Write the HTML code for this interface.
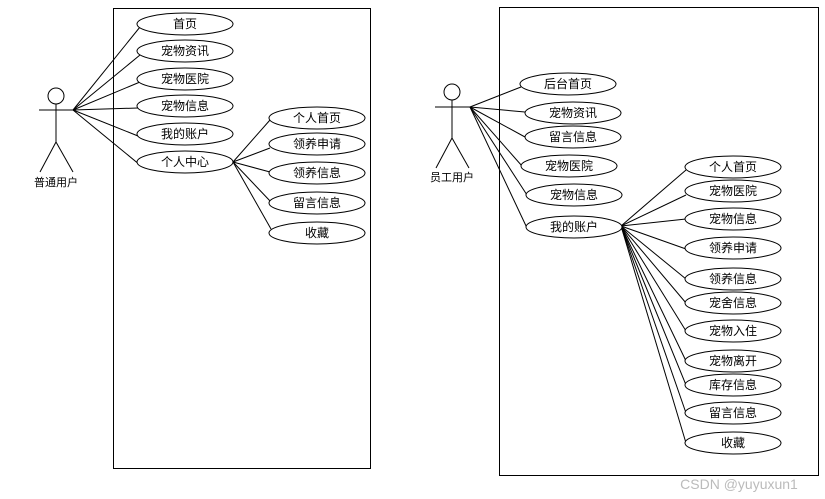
<!DOCTYPE html>
<html><head><meta charset="utf-8"><style>
html,body{margin:0;padding:0;background:#fff;}
svg{display:block;}
text{font-family:"Liberation Sans","Noto Sans CJK SC",sans-serif;font-size:12px;fill:#000;}
</style></head><body>
<svg width="825" height="499" viewBox="0 0 825 499" xmlns="http://www.w3.org/2000/svg">
<g fill="none" stroke="#000" stroke-width="1">
<rect x="113.5" y="8.5" width="257" height="460"/>
<rect x="499.5" y="7.5" width="319" height="468"/>
<circle cx="56" cy="96" r="8"/>
<line x1="39" y1="110" x2="75" y2="110"/>
<line x1="56" y1="104" x2="56" y2="142"/>
<line x1="56" y1="142" x2="40" y2="172"/>
<line x1="56" y1="142" x2="73" y2="172"/>
<circle cx="452" cy="92" r="8"/>
<line x1="435" y1="107" x2="470" y2="107"/>
<line x1="452" y1="100" x2="452" y2="138"/>
<line x1="452" y1="138" x2="436" y2="168"/>
<line x1="452" y1="138" x2="469" y2="168"/>
<line x1="73" y1="110" x2="140" y2="27"/>
<line x1="73" y1="110" x2="140" y2="55"/>
<line x1="73" y1="110" x2="140" y2="82"/>
<line x1="73" y1="110" x2="138" y2="108"/>
<line x1="73" y1="110" x2="138" y2="136"/>
<line x1="73" y1="110" x2="140" y2="165"/>
<line x1="233" y1="162" x2="270" y2="120"/>
<line x1="233" y1="162" x2="270" y2="148"/>
<line x1="233" y1="162" x2="270" y2="172"/>
<line x1="233" y1="162" x2="271" y2="202"/>
<line x1="233" y1="162" x2="271" y2="229"/>
<line x1="470" y1="107" x2="521" y2="87"/>
<line x1="470" y1="107" x2="525" y2="112"/>
<line x1="470" y1="107" x2="525" y2="137"/>
<line x1="470" y1="107" x2="522" y2="166"/>
<line x1="470" y1="107" x2="527" y2="195"/>
<line x1="470" y1="107" x2="527" y2="228"/>
<line x1="621" y1="226" x2="686" y2="170"/>
<line x1="621" y1="226" x2="686" y2="195"/>
<line x1="621" y1="226" x2="686" y2="219"/>
<line x1="621" y1="226" x2="686" y2="249"/>
<line x1="621" y1="226" x2="686" y2="279"/>
<line x1="621" y1="226" x2="686" y2="303"/>
<line x1="621" y1="226" x2="686" y2="331"/>
<line x1="621" y1="226" x2="686" y2="361"/>
<line x1="621" y1="226" x2="686" y2="385"/>
<line x1="621" y1="226" x2="686" y2="413"/>
<line x1="621" y1="226" x2="686" y2="443"/>
</g>
<g fill="#fff" stroke="#000" stroke-width="1">
<ellipse cx="185" cy="24" rx="48" ry="11"/>
<ellipse cx="185" cy="51" rx="48" ry="11"/>
<ellipse cx="185" cy="79" rx="48" ry="11"/>
<ellipse cx="185" cy="106" rx="48" ry="11"/>
<ellipse cx="185" cy="134" rx="48" ry="11"/>
<ellipse cx="185" cy="162" rx="48" ry="11"/>
<ellipse cx="317" cy="118" rx="48" ry="11"/>
<ellipse cx="317" cy="144" rx="48" ry="11"/>
<ellipse cx="317" cy="173" rx="48" ry="11"/>
<ellipse cx="317" cy="203" rx="48" ry="11"/>
<ellipse cx="317" cy="233" rx="48" ry="11"/>
<ellipse cx="568" cy="84" rx="48" ry="11"/>
<ellipse cx="573" cy="113" rx="48" ry="11"/>
<ellipse cx="573" cy="137" rx="48" ry="11"/>
<ellipse cx="569" cy="166" rx="48" ry="11"/>
<ellipse cx="574" cy="195" rx="48" ry="11"/>
<ellipse cx="574" cy="227" rx="48" ry="11"/>
<ellipse cx="733" cy="167" rx="48" ry="11"/>
<ellipse cx="733" cy="191" rx="48" ry="11"/>
<ellipse cx="733" cy="219" rx="48" ry="11"/>
<ellipse cx="733" cy="248" rx="48" ry="11"/>
<ellipse cx="733" cy="279" rx="48" ry="11"/>
<ellipse cx="733" cy="303" rx="48" ry="11"/>
<ellipse cx="733" cy="331" rx="48" ry="11"/>
<ellipse cx="733" cy="361" rx="48" ry="11"/>
<ellipse cx="733" cy="385" rx="48" ry="11"/>
<ellipse cx="733" cy="413" rx="48" ry="11"/>
<ellipse cx="733" cy="443" rx="48" ry="11"/>
</g>
<g text-anchor="middle" dominant-baseline="central">
<text x="185" y="24">首页</text>
<text x="185" y="51">宠物资讯</text>
<text x="185" y="79">宠物医院</text>
<text x="185" y="106">宠物信息</text>
<text x="185" y="134">我的账户</text>
<text x="185" y="162">个人中心</text>
<text x="317" y="118">个人首页</text>
<text x="317" y="144">领养申请</text>
<text x="317" y="173">领养信息</text>
<text x="317" y="203">留言信息</text>
<text x="317" y="233">收藏</text>
<text x="56" y="183" style="font-size:11px">普通用户</text>
<text x="568" y="84">后台首页</text>
<text x="573" y="113">宠物资讯</text>
<text x="573" y="137">留言信息</text>
<text x="569" y="166">宠物医院</text>
<text x="574" y="195">宠物信息</text>
<text x="574" y="227">我的账户</text>
<text x="452" y="178" style="font-size:11px">员工用户</text>
<text x="733" y="167">个人首页</text>
<text x="733" y="191">宠物医院</text>
<text x="733" y="219">宠物信息</text>
<text x="733" y="248">领养申请</text>
<text x="733" y="279">领养信息</text>
<text x="733" y="303">宠舍信息</text>
<text x="733" y="331">宠物入住</text>
<text x="733" y="361">宠物离开</text>
<text x="733" y="385">库存信息</text>
<text x="733" y="413">留言信息</text>
<text x="733" y="443">收藏</text>
<text x="739" y="484" style="font-size:14px;fill:#bbb">CSDN @yuyuxun1</text>
</g>
</svg>
</body></html>
